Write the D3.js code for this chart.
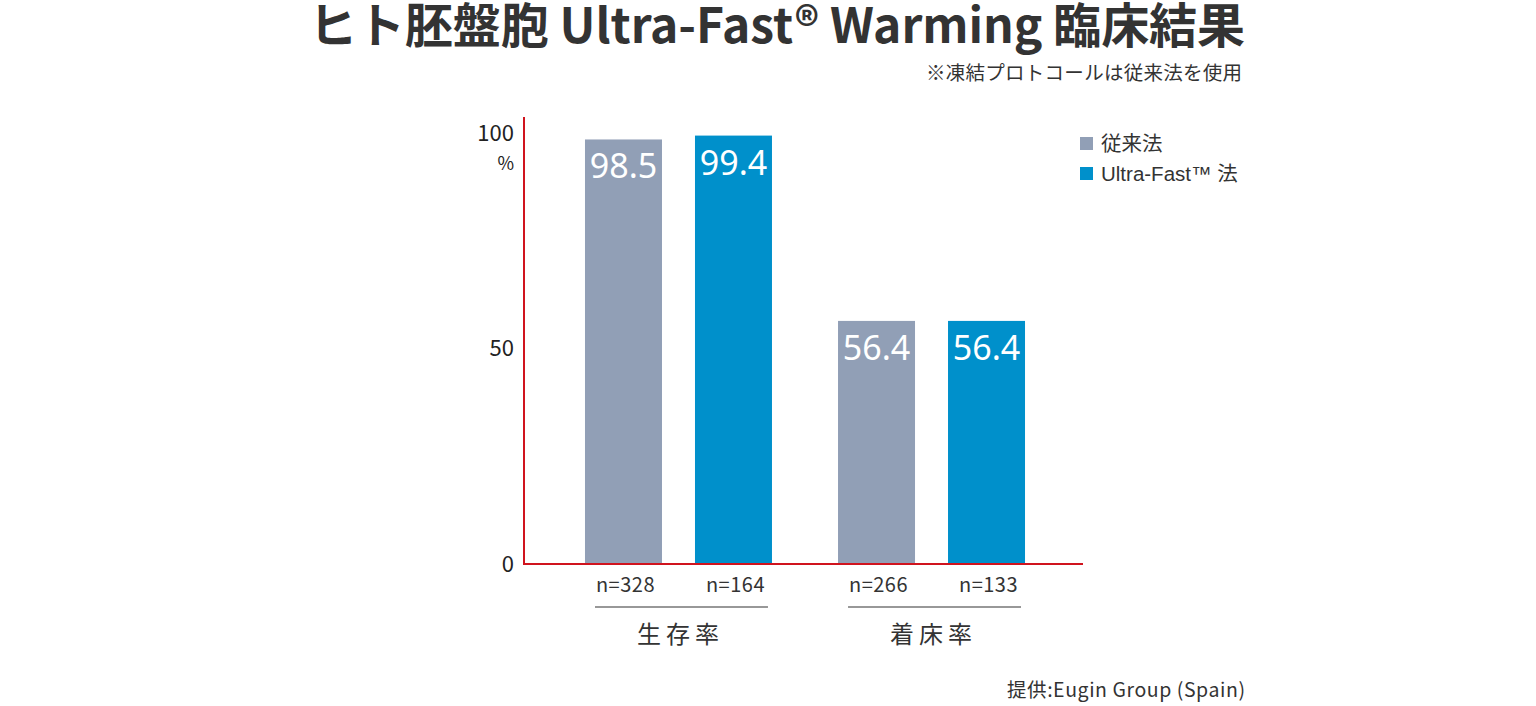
<!DOCTYPE html>
<html><head><meta charset="utf-8">
<script src="https://cdn.jsdelivr.net/npm/d3@7/dist/d3.min.js"></script>
<style>
body{margin:0;background:#fff;}
svg{display:block;font-family:"Noto Sans CJK JP","Noto Sans",sans-serif;}
</style></head><body>
<svg id="c" width="1536" height="706"></svg>
<script>
const categories = ["生存率","着床率"];
const seriesNames = ["従来法","Ultra-Fast™ 法"];
const conventional = [98.5, 56.4];
const ultraFast = [99.4, 56.4];
const nConventional = ["n=328","n=266"];
const nUltraFast = ["n=164","n=133"];
const yTicks = [0, 50, 100];
const colors = ["#919fb6", "#0090cb"];

const svg = d3.select("#c");
const y = d3.scaleLinear().domain([0,100]).range([564,133]);
const x0 = d3.scaleBand().domain(categories).range([524,1086]).paddingInner(0.261).paddingOuter(0.241);
const x1 = d3.scaleBand().domain([0,1]).range([0,x0.bandwidth()]).paddingInner(0.3);

function fitText(sel, target){
  const w = sel.node().getComputedTextLength();
  const n = sel.text().length;
  sel.attr("letter-spacing", (target - w)/(n-1));
}

// Title
const title = svg.append("text").attr("x",309).attr("y",43)
  .attr("font-size",48).attr("font-weight","bold").attr("fill","#333")
  .text("ヒト胚盤胞 Ultra-Fast®  Warming 臨床結果");
fitText(title, 936);
const sub = svg.append("text").attr("x",926).attr("y",80)
  .attr("font-size",19.5).attr("fill","#333").text("※凍結プロトコールは従来法を使用");
fitText(sub, 316);

// Bars
const data = categories.map((c,i)=>({c, vals:[conventional[i], ultraFast[i]], ns:[nConventional[i], nUltraFast[i]]}));
const g = svg.selectAll(".grp").data(data).enter().append("g").attr("transform",d=>`translate(${x0(d.c)},0)`);
g.selectAll("rect").data(d=>d.vals).enter().append("rect")
  .attr("x",(d,i)=>x1(i)).attr("width",x1.bandwidth())
  .attr("y",d=>y(d)).attr("height",d=>564-y(d)).attr("fill",(d,i)=>colors[i]);
g.selectAll(".val").data(d=>d.vals).enter().append("text")
  .attr("x",(d,i)=>x1(i)+x1.bandwidth()/2).attr("y",d=>y(d)+39)
  .attr("text-anchor","middle").attr("font-size",34).attr("fill","#fff")
  .attr("font-family","'Noto Sans','DejaVu Sans',sans-serif")
  .text(d=>d.toFixed(1));
g.selectAll(".n").data(d=>d.ns).enter().append("text")
  .attr("x",(d,i)=>x1(i)+x1.bandwidth()/2+2).attr("y",592)
  .attr("text-anchor","middle").attr("font-size",20).attr("letter-spacing",0.5).attr("fill","#333").text(d=>d);
g.append("line").attr("x1",x1(0)+10).attr("x2",x1(1)+x1.bandwidth()-4)
  .attr("y1",607).attr("y2",607).attr("stroke","#333").attr("stroke-width",1.2);
g.append("text").attr("x",x0.bandwidth()/2+2).attr("y",643).attr("text-anchor","middle")
  .attr("font-size",24).attr("letter-spacing",5).attr("fill","#333").text(d=>d.c);

// Axes
const yAxis = d3.axisLeft(y).tickValues(yTicks).tickSize(0).tickPadding(10);
const ya = svg.append("g").attr("transform","translate(524,0)").call(yAxis);
ya.select(".domain").remove();
ya.selectAll("text").attr("font-size",22).attr("fill","#222")
  .attr("font-family","'Noto Sans CJK JP',sans-serif");
svg.append("line").attr("x1",524).attr("x2",524).attr("y1",117).attr("y2",565)
  .attr("stroke","#d0141e").attr("stroke-width",2);
svg.append("line").attr("x1",523).attr("x2",1083).attr("y1",564).attr("y2",564)
  .attr("stroke","#d0141e").attr("stroke-width",2);
svg.append("text").attr("x",514).attr("y",170).attr("text-anchor","end")
  .attr("font-size",18).attr("fill","#222").text("%");

// Legend
const lg = svg.append("g").attr("transform","translate(1080,137)");
seriesNames.forEach((s,i)=>{
  lg.append("rect").attr("x",0).attr("y",i*30).attr("width",13).attr("height",13).attr("fill",colors[i]);
  lg.append("text").attr("x",21).attr("y",i*30+14).attr("font-size",20.5).attr("fill","#333")
    .attr("font-family","'Liberation Sans','Noto Sans CJK JP',sans-serif").text(s);
});

// Credit
const cr = svg.append("text").attr("x",1007).attr("y",697)
  .attr("font-size",19.5).attr("fill","#333").text("提供:Eugin Group (Spain)");
fitText(cr, 238);
</script>
</body></html>
